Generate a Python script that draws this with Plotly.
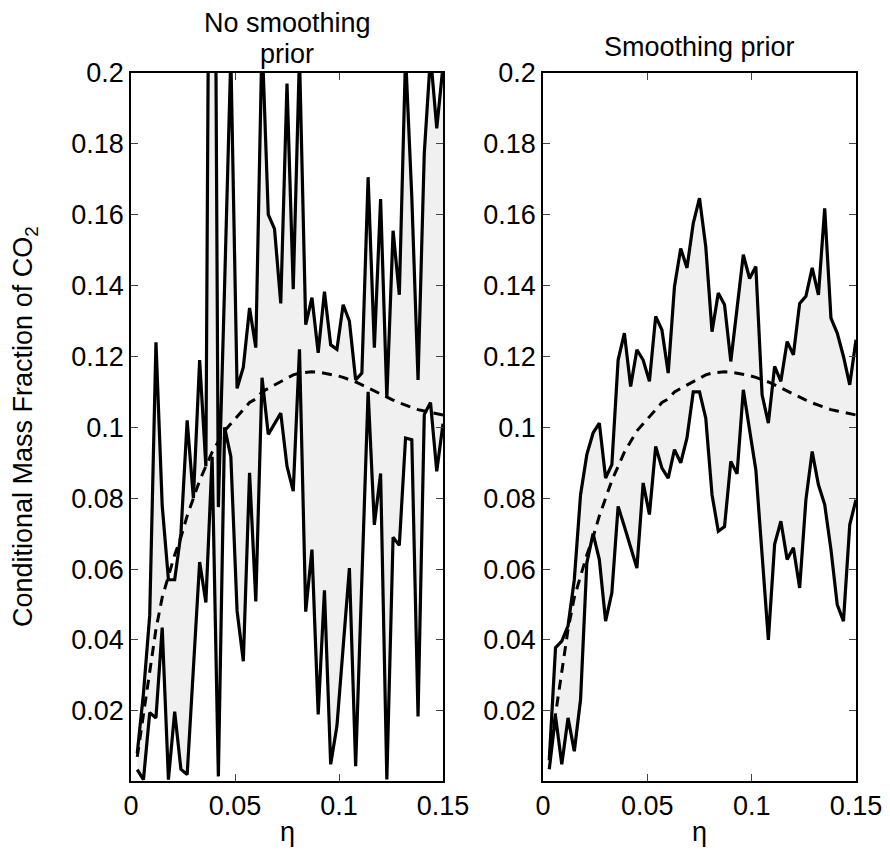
import plotly.graph_objects as go

eta = [0.003, 0.006, 0.009, 0.012, 0.015, 0.018, 0.021, 0.024, 0.027, 0.030,
       0.033, 0.036, 0.039, 0.042, 0.045, 0.048, 0.051, 0.054, 0.057, 0.060,
       0.063, 0.066, 0.069, 0.072, 0.075, 0.078, 0.081, 0.084, 0.087, 0.090,
       0.093, 0.096, 0.099, 0.102, 0.105, 0.108, 0.111, 0.114, 0.117, 0.120,
       0.123, 0.126, 0.129, 0.132, 0.135, 0.138, 0.141, 0.144, 0.147, 0.150]

mean_curve = [0.007, 0.019, 0.030, 0.043, 0.052, 0.058, 0.064, 0.069, 0.075, 0.080,
              0.085, 0.089, 0.093, 0.096, 0.099, 0.101, 0.103, 0.105, 0.107, 0.108,
              0.110, 0.111, 0.112, 0.1128, 0.1140, 0.1148, 0.1153, 0.1156, 0.1157, 0.1156,
              0.1153, 0.1150, 0.1146, 0.1141, 0.1135, 0.1128, 0.1120, 0.1111, 0.1102, 0.1093,
              0.1085, 0.1077, 0.1069, 0.1062, 0.1056, 0.1050, 0.1046, 0.1042, 0.1038, 0.1035]

left_upper = [0.008, 0.025, 0.047, 0.124, 0.078, 0.057, 0.057, 0.070, 0.102, 0.080,
              0.119, 0.089, 0.400, 0.0775, 0.140, 0.205, 0.111, 0.117, 0.1337, 0.1225,
              0.210, 0.160, 0.156, 0.135, 0.197, 0.139, 0.205, 0.129, 0.1366, 0.121,
              0.1383, 0.1233, 0.122, 0.1346, 0.130, 0.1134, 0.1153, 0.1706, 0.1225, 0.1644,
              0.1083, 0.1555, 0.1374, 0.205, 0.165, 0.1134, 0.1774, 0.205, 0.1844, 0.202]

left_lower = [0.0034, 0.0006, 0.0195, 0.018, 0.0435, 0.0006, 0.0198, 0.0035, 0.002, 0.033,
              0.062, 0.0506, 0.0917, 0.0015, 0.100, 0.0917, 0.0482, 0.034, 0.0872, 0.0509,
              0.114, 0.098, 0.101, 0.104, 0.089, 0.082, 0.122, 0.048, 0.0655, 0.019,
              0.054, 0.0049, 0.0157, 0.038, 0.0603, 0.0044, 0.057, 0.110, 0.0725, 0.087,
              0.0006, 0.069, 0.0667, 0.097, 0.0965, 0.0184, 0.1036, 0.107, 0.0876, 0.101]

right_upper = [0.006, 0.0378, 0.0397, 0.044, 0.057, 0.081, 0.0923, 0.0984, 0.1012, 0.0857,
               0.0895, 0.119, 0.1266, 0.1115, 0.1219, 0.119, 0.113, 0.1313, 0.1275, 0.1153,
               0.1397, 0.1505, 0.145, 0.1576, 0.1647, 0.151, 0.127, 0.1379, 0.1346, 0.1186,
               0.1336, 0.1487, 0.142, 0.1454, 0.1092, 0.1012, 0.1172, 0.113, 0.1242, 0.1205,
               0.135, 0.137, 0.145, 0.1374, 0.1618, 0.1308, 0.1266, 0.120, 0.112, 0.1247]

right_lower = [0.0035, 0.0185, 0.0049, 0.018, 0.0086, 0.0232, 0.0617, 0.070, 0.0627, 0.0453,
               0.0533, 0.0777, 0.072, 0.066, 0.0603, 0.0843, 0.0754, 0.0946, 0.0885, 0.0857,
               0.0937, 0.090, 0.097, 0.110, 0.110, 0.1026, 0.081, 0.0707, 0.072, 0.0904,
               0.0869, 0.1106, 0.099, 0.088, 0.064, 0.040, 0.067, 0.0735, 0.0627, 0.066,
               0.0547, 0.0796, 0.0932, 0.0838, 0.0782, 0.0655, 0.050, 0.0453, 0.0725, 0.0796]

y_ticks = [0.02, 0.04, 0.06, 0.08, 0.10, 0.12, 0.14, 0.16, 0.18, 0.20]
y_tick_text = ["0.02", "0.04", "0.06", "0.08", "0.1", "0.12", "0.14", "0.16", "0.18", "0.2"]
x_ticks = [0, 0.05, 0.10, 0.15]
x_tick_text = ["0", "0.05", "0.1", "0.15"]

title_left_lines = ["No smoothing", "prior"]
title_right = "Smoothing prior"
y_label = "Conditional Mass Fraction of CO<sub>2</sub>"
x_label = "η"

FONT = "Liberation Sans, Arial, Helvetica, sans-serif"
FS = 27
OFF = 8                      # default page body margin
W, H = 890 - OFF, 856 - 2 * OFF

fig = go.Figure()

panels = [(left_upper, left_lower, "x", "y"), (right_upper, right_lower, "x2", "y2")]
for up, lo, xa, ya in panels:
    fig.add_trace(go.Scatter(x=eta + eta[::-1], y=up + lo[::-1], fill="toself",
                             fillcolor="#f0f0f0", line=dict(width=0), mode="lines",
                             hoverinfo="skip", xaxis=xa, yaxis=ya, showlegend=False))
    fig.add_trace(go.Scatter(x=eta, y=mean_curve, mode="lines",
                             line=dict(color="black", width=3, dash="10px,7px"),
                             xaxis=xa, yaxis=ya, showlegend=False))
    fig.add_trace(go.Scatter(x=eta, y=up, mode="lines", line=dict(color="black", width=3.2),
                             xaxis=xa, yaxis=ya, showlegend=False))
    fig.add_trace(go.Scatter(x=eta, y=lo, mode="lines", line=dict(color="black", width=3.2),
                             xaxis=xa, yaxis=ya, showlegend=False))

def px_x(p):
    return (p - OFF) / W

def px_y(p):
    return 1 - (p - OFF) / H

axis_common = dict(showline=True, linecolor="black", linewidth=1.5, mirror="allticks",
                   ticks="inside", ticklen=7, tickwidth=1, tickcolor="#444",
                   showgrid=False, zeroline=False, automargin=False,
                   tickfont=dict(family=FONT, size=FS, color="black"))

fig.update_layout(
    template="none",
    width=W, height=H, paper_bgcolor="white", plot_bgcolor="white",
    margin=dict(l=0, r=0, t=0, b=0, pad=0),
    xaxis=dict(domain=[px_x(131), px_x(443)], range=[0, 0.15], tickvals=x_ticks,
               ticktext=x_tick_text, anchor="y", **axis_common),
    yaxis=dict(domain=[px_y(781), px_y(73)], range=[0.0002, 0.2], tickvals=y_ticks,
               ticktext=y_tick_text, anchor="x", **axis_common),
    xaxis2=dict(domain=[px_x(543), px_x(856)], range=[0, 0.15], tickvals=x_ticks,
                ticktext=x_tick_text, anchor="y2", **axis_common),
    yaxis2=dict(domain=[px_y(781), px_y(73)], range=[0.0002, 0.2], tickvals=y_ticks,
                ticktext=y_tick_text, anchor="x2", **axis_common),
)

def label(text, xp, yp, angle=0):
    return dict(text=text, x=px_x(xp), y=px_y(yp), xref="paper", yref="paper",
                xanchor="center", yanchor="middle", textangle=angle, showarrow=False,
                font=dict(family=FONT, size=FS, color="black"))

annotations = [
    label(title_left_lines[0], 287, 23),
    label(title_left_lines[1], 287, 54),
    label(title_right, 699.5, 47),
    label(y_label, 25, 427, -90),
    label(x_label, 287, 832),
    label(x_label, 699.5, 832),
]
fig.update_layout(annotations=annotations)

fig.write_html("out.html")
